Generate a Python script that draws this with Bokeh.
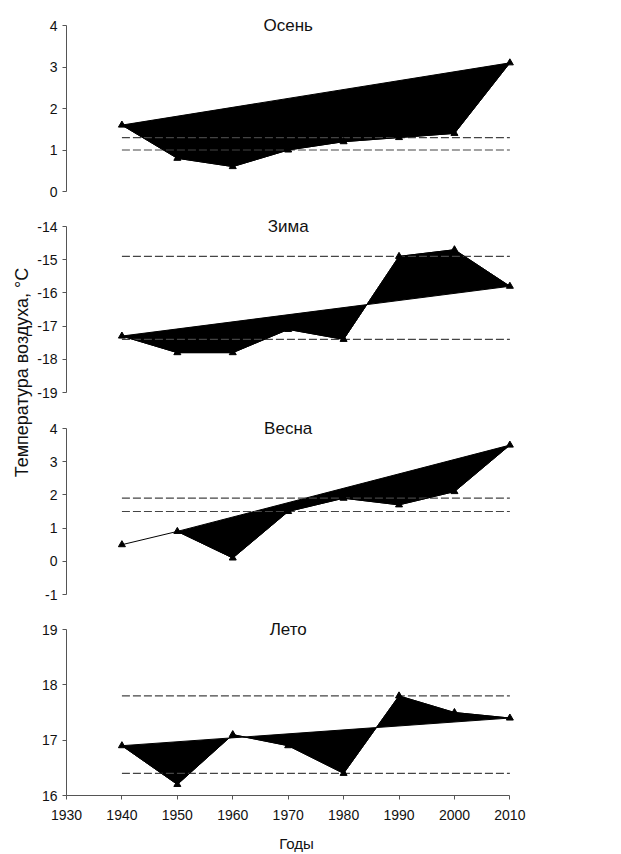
import math
from bokeh.plotting import figure
from bokeh.layouts import row, column
from bokeh.models import FixedTicker, Range1d, PrintfTickFormatter
from bokeh.core.properties import value
from bokeh.embed import file_html
from bokeh.resources import INLINE

# ---- data ----
years = [1940, 1950, 1960, 1970, 1980, 1990, 2000, 2010]
seasons = ["Осень", "Зима", "Весна", "Лето"]
autumn = [1.6, 0.8, 0.6, 1.0, 1.2, 1.3, 1.4, 3.1]
winter = [-17.3, -17.8, -17.8, -17.1, -17.4, -14.9, -14.7, -15.8]
spring = [0.5, 0.9, 0.1, 1.5, 1.9, 1.7, 2.1, 3.5]
summer = [16.9, 16.2, 17.1, 16.9, 16.4, 17.8, 17.5, 17.4]
autumn_dash = [1.3, 1.0]
winter_dash = [-14.9, -17.4]
spring_dash = [1.9, 1.5]
summer_dash = [17.8, 16.4]
trend_from = [1940, 1940, 1950, 1940]   # year where the trend segment starts
y_limits = [(0, 4), (-19, -14), (-1, 4), (16, 19)]
x_ticks = [1930, 1940, 1950, 1960, 1970, 1980, 1990, 2000, 2010]
x_label = "Годы"
y_label = "Температура воздуха, °C"

series = [autumn, winter, spring, summer]
dashes = [autumn_dash, winter_dash, spring_dash, summer_dash]

FONT = "Liberation Sans"
FRAME_H = 178
AXIS_SPAN = 166
FRAME_W = 460
tops = [13, 6, 6, 6]
bottoms = [17, 18, 17, 0]

figs = []
for i in range(4):
    lo, hi = y_limits[i]
    pad = 12 * (hi - lo) / AXIS_SPAN
    last = i == 3
    p = figure(frame_width=FRAME_W, frame_height=FRAME_H,
               x_range=Range1d(1930, 2013), y_range=Range1d(lo, hi + pad),
               output_backend="svg", toolbar_location=None,
               x_axis_location="below" if last else None,
               min_border_left=32, min_border_right=10,
               min_border_top=tops[i], min_border_bottom=bottoms[i])
    p.outline_line_color = None
    p.grid.visible = False
    p.background_fill_color = "white"

    ya = p.yaxis[0]
    ya.ticker = FixedTicker(ticks=list(range(lo, hi + 1)))
    ya.formatter = PrintfTickFormatter(format="%d")
    ya.bounds = (lo, hi)
    ya.major_tick_out = 4
    ya.major_tick_in = 0
    ya.minor_tick_line_color = None
    ya.axis_line_color = "#555555"
    ya.major_tick_line_color = "#555555"
    ya.major_label_text_font = FONT
    ya.major_label_text_font_size = "14px"
    ya.major_label_text_color = "#111111"
    ya.major_label_standoff = 5

    if last:
        xa = p.xaxis[0]
        xa.ticker = FixedTicker(ticks=x_ticks)
        xa.formatter = PrintfTickFormatter(format="%d")
        xa.bounds = (x_ticks[0], x_ticks[-1])
        xa.major_tick_out = 4
        xa.major_tick_in = 0
        xa.minor_tick_line_color = None
        xa.axis_line_color = "#555555"
        xa.major_tick_line_color = "#555555"
        xa.major_label_text_font = FONT
        xa.major_label_text_font_size = "14px"
        xa.major_label_text_color = "#111111"
        xa.major_label_standoff = 10
        xa.axis_label = x_label
        xa.axis_label_text_font = FONT
        xa.axis_label_text_font_size = "15px"
        xa.axis_label_text_font_style = "normal"
        xa.axis_label_text_color = "#111111"
        xa.axis_label_standoff = 12

    vals = series[i]
    k = years.index(trend_from[i])
    # filled area between the series and its trend (closing side of the polygon)
    p.patch(years[k:], vals[k:], fill_color="black", line_color="black", line_width=1)
    # dashed reference lines
    for d in dashes[i]:
        p.segment(x0=[years[0]], y0=[d], x1=[years[-1]], y1=[d],
                  line_color="#444444", line_width=1.2, line_dash="8 3")
    p.line(years, vals, line_color="black", line_width=1)
    p.scatter(years, vals, marker="triangle", size=7, fill_color="black", line_color="black")
    # panel title
    p.text(x=[(x_ticks[0] + x_ticks[-1]) / 2], y=[hi], text=[seasons[i]],
           text_align="center", text_baseline="middle",
           text_font=value(FONT), text_font_size="17px", text_color="#111111")
    figs.append(p)

TOTAL_H = 840
LAB_W = 34
lab = figure(width=LAB_W, height=TOTAL_H, x_range=Range1d(0, LAB_W), y_range=Range1d(0, TOTAL_H),
             output_backend="svg", toolbar_location=None,
             x_axis_location=None, y_axis_location=None,
             min_border_left=0, min_border_right=0, min_border_top=0, min_border_bottom=0)
lab.outline_line_color = None
lab.grid.visible = False
lab.text(x=[21], y=[TOTAL_H - 372], text=[y_label], angle=math.pi / 2,
         text_align="center", text_baseline="middle",
         text_font=value(FONT), text_font_size="18px", text_color="#111111")

layout = row(lab, column(*figs, spacing=0), spacing=0)
open("out.html", "w").write(file_html(layout, INLINE))
